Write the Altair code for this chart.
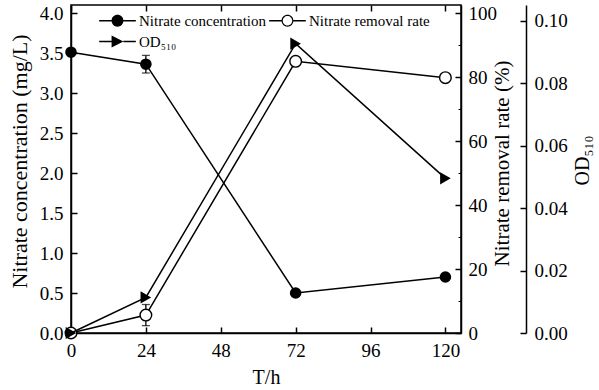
import altair as alt
import pandas as pd

# ---------------- data ----------------
time_h = [0, 24, 72, 120]
nitrate_conc = [3.51, 3.36, 0.50, 0.70]
nitrate_conc_err = [0.0, 0.11, 0.0, 0.0]
removal_rate = [0.0, 5.6, 84.9, 79.8]
removal_rate_err = [0.0, 3.3, 0.0, 0.0]
od510 = [0.0, 0.0114, 0.0926, 0.0495]

x_ticks = [0, 24, 48, 72, 96, 120]
conc_ticks = [0.0, 0.5, 1.0, 1.5, 2.0, 2.5, 3.0, 3.5, 4.0]
rate_ticks = [0, 20, 40, 60, 80, 100]
rate_minor_ticks = [10, 30, 50, 70, 90]
od_ticks = [0.00, 0.02, 0.04, 0.06, 0.08, 0.10]
series_names = ["Nitrate concentration", "Nitrate removal rate", "OD₅₁₀"]

df = pd.DataFrame({
    "t": time_h,
    "conc": nitrate_conc,
    "conc_err": nitrate_conc_err,
    "rate": removal_rate,
    "rate_err": removal_rate_err,
    "od": od510,
})
df["conc_lo"] = df["conc"] - df["conc_err"]
df["conc_hi"] = df["conc"] + df["conc_err"]
df["rate_lo"] = df["rate"] - df["rate_err"]
df["rate_hi"] = df["rate"] + df["rate_err"]

legend_df = pd.DataFrame({"series": series_names})

FONT = "Liberation Serif"
W, H = 390, 328

x_scale = alt.Scale(domain=[0, 125], nice=False, zero=False)
conc_scale = alt.Scale(domain=[0, 4.1], nice=False, zero=False)
rate_scale = alt.Scale(domain=[0, 102.5], nice=False, zero=False)
od_scale = alt.Scale(domain=[0, 0.105], nice=False, zero=False)

IN6 = {"expr": "-6"}
IN3 = {"expr": "-3"}

TXT = dict(labelFont=FONT, titleFont=FONT, labelFontSize=19, labelColor="black",
           titleColor="black", titleFontWeight="normal", domainColor="black",
           domainWidth=1.5, labelFlush=False, labelOverlap=False, grid=False)
TCK = dict(labels=False, domain=False, title=None, tickColor="black", grid=False)

# ---- main axes: domain, labels, titles (no ticks)
x_axis_bottom = alt.Axis(
    orient="bottom", values=x_ticks, format="d", ticks=False, labelPadding=8,
    title="T/h", titleFontSize=20, titleX=W / 2, titleY=50, titleAlign="center",
    titleBaseline="alphabetic", **TXT,
)
y_axis_conc = alt.Axis(
    orient="left", values=conc_ticks, format=".1f", ticks=False, labelPadding=8,
    title="Nitrate concentration (mg/L)", titleFontSize=22, titleAngle=270,
    titleX=-45, titleY=156, titleAlign="center", titleBaseline="alphabetic", **TXT,
)
y_axis_rate = alt.Axis(
    orient="right", values=rate_ticks, format="d", ticks=False, labelPadding=7,
    title="Nitrate removal rate (%)", titleFontSize=21, titleAngle=270,
    titleX=47, titleY=158, titleAlign="center", titleBaseline="alphabetic", **TXT,
)
y_axis_od = alt.Axis(
    orient="right", offset=65, values=od_ticks, format=".2f", ticks=False,
    labelPadding=8, title="OD₅₁₀", titleFontSize=20, titleAngle=270,
    titleX=62, titleY=155, titleAlign="center", titleBaseline="alphabetic", **TXT,
)

# ---- tick-only axes (ticks pointing into the plot)
x_ticks_bottom = alt.Axis(orient="bottom", values=x_ticks, tickSize=IN6, tickWidth=1.5, **TCK)
x_ticks_top = alt.Axis(orient="top", values=x_ticks, tickSize=IN6, tickWidth=1.5, **TCK)
y_ticks_conc = alt.Axis(orient="left", values=conc_ticks, tickSize=IN6, tickWidth=1.5, **TCK)
y_ticks_rate = alt.Axis(orient="right", values=rate_ticks, tickSize=IN6, tickWidth=1.5, **TCK)
y_ticks_rate_minor = alt.Axis(orient="right", values=rate_minor_ticks, tickSize=IN3, tickWidth=1, **TCK)
y_ticks_od = alt.Axis(orient="right", offset=65, values=od_ticks, tickSize=IN6, tickWidth=1.5, **TCK)

base = alt.Chart(df)
X_none = alt.X("t:Q", scale=x_scale, axis=None)

# ---- nitrate concentration
conc_line = base.mark_line(color="black", strokeWidth=1.5).encode(
    x=X_none, y=alt.Y("conc:Q", scale=conc_scale, axis=None))
conc_bar = base.transform_filter("datum.conc_err > 0").mark_rule(color="black", strokeWidth=1.3).encode(
    x=X_none, y=alt.Y("conc_lo:Q", scale=conc_scale, axis=None), y2="conc_hi:Q")
conc_cap_lo = base.transform_filter("datum.conc_err > 0").mark_tick(
    orient="horizontal", size=8, thickness=1.3, color="black").encode(
    x=X_none, y=alt.Y("conc_lo:Q", scale=conc_scale, axis=None))
conc_cap_hi = base.transform_filter("datum.conc_err > 0").mark_tick(
    orient="horizontal", size=8, thickness=1.3, color="black").encode(
    x=X_none, y=alt.Y("conc_hi:Q", scale=conc_scale, axis=None))
conc_pts = base.mark_point(shape="circle", filled=True, color="black", size=135, opacity=1).encode(
    x=X_none, y=alt.Y("conc:Q", scale=conc_scale, axis=None))
conc_layer = alt.layer(conc_line, conc_bar, conc_cap_lo, conc_cap_hi, conc_pts)

# ---- nitrate removal rate
rate_line = base.mark_line(color="black", strokeWidth=1.5).encode(
    x=X_none, y=alt.Y("rate:Q", scale=rate_scale, axis=None))
rate_bar = base.transform_filter("datum.rate_err > 0").mark_rule(color="black", strokeWidth=1.3).encode(
    x=X_none, y=alt.Y("rate_lo:Q", scale=rate_scale, axis=None), y2="rate_hi:Q")
rate_cap_lo = base.transform_filter("datum.rate_err > 0").mark_tick(
    orient="horizontal", size=8, thickness=1.3, color="black").encode(
    x=X_none, y=alt.Y("rate_lo:Q", scale=rate_scale, axis=None))
rate_cap_hi = base.transform_filter("datum.rate_err > 0").mark_tick(
    orient="horizontal", size=8, thickness=1.3, color="black").encode(
    x=X_none, y=alt.Y("rate_hi:Q", scale=rate_scale, axis=None))
rate_pts = base.mark_point(shape="circle", filled=True, fill="white", stroke="black",
                           strokeWidth=1.4, size=135, opacity=1).encode(
    x=X_none, y=alt.Y("rate:Q", scale=rate_scale, axis=None))
rate_layer = alt.layer(rate_line, rate_bar, rate_cap_lo, rate_cap_hi, rate_pts)

# ---- OD510
od_line = base.mark_line(color="black", strokeWidth=1.5).encode(
    x=X_none, y=alt.Y("od:Q", scale=od_scale, axis=None))
od_pts = base.mark_point(shape="triangle-right", filled=True, color="black", size=150, opacity=1).encode(
    x=X_none, y=alt.Y("od:Q", scale=od_scale, axis=None))
od_layer = alt.layer(od_line, od_pts)

# ---- invisible layers carrying the axes
axes_1 = base.mark_point(opacity=0).encode(
    x=alt.X("t:Q", scale=x_scale, axis=x_axis_bottom),
    y=alt.Y("conc:Q", scale=conc_scale, axis=y_axis_conc))
axes_2 = base.mark_point(opacity=0).encode(
    x=X_none, y=alt.Y("rate:Q", scale=rate_scale, axis=y_axis_rate))
axes_3 = base.mark_point(opacity=0).encode(
    x=X_none, y=alt.Y("od:Q", scale=od_scale, axis=y_axis_od))
ticks_a = base.mark_point(opacity=0).encode(
    x=alt.X("t:Q", scale=x_scale, axis=x_ticks_bottom),
    y=alt.Y("conc:Q", scale=conc_scale, axis=y_ticks_conc))
ticks_b = base.mark_point(opacity=0).encode(
    x=alt.X("t:Q", scale=x_scale, axis=x_ticks_top),
    y=alt.Y("rate:Q", scale=rate_scale, axis=y_ticks_rate))
ticks_c = base.mark_point(opacity=0).encode(
    x=X_none, y=alt.Y("rate:Q", scale=rate_scale, axis=y_ticks_rate_minor))
ticks_d = base.mark_point(opacity=0).encode(
    x=X_none, y=alt.Y("od:Q", scale=od_scale, axis=y_ticks_od))

# ---- legend (line + marker symbols)
LINES = "M-3.1,-0.11H-1V0.11H-3.1Z M1,-0.11H3.1V0.11H1Z "
DISC = "M1,0A1,1 0 1,1 -1,0A1,1 0 1,1 1,0Z"
RING = DISC + " M0.8,0A0.8,0.8 0 1,0 -0.8,0A0.8,0.8 0 1,0 0.8,0Z"
TRI = "M-1,-1L1,0L-1,1Z"
legend_shapes = [LINES + DISC, LINES + RING, LINES + TRI]

legend_layer = alt.Chart(legend_df).mark_point(filled=True, color="black", opacity=0, size=140).encode(
    shape=alt.Shape(
        "series:N",
        scale=alt.Scale(domain=series_names, range=legend_shapes),
        legend=alt.Legend(
            orient="none", legendX=39, legendY=8, columns=2, direction="horizontal", title=None,
            labelFont=FONT, labelFontSize=15, labelColor="black", labelLimit=400,
            symbolSize=140, symbolStrokeWidth=0, symbolOpacity=1, symbolFillColor="black",
            labelOffset=14, columnPadding=2, rowPadding=5, padding=0,
        ),
    )
)

chart = (
    alt.layer(conc_layer, rate_layer, od_layer, axes_1, axes_2, axes_3,
              ticks_a, ticks_b, ticks_c, ticks_d, legend_layer)
    .resolve_scale(y="independent")
    .resolve_axis(x="independent", y="independent")
    .properties(
        width=W, height=H,
        padding={"left": 71, "top": 5, "right": 138, "bottom": 57},
        autosize=alt.AutoSizeParams(type="none"),
        background="white",
    )
    .configure(font=FONT)
    .configure_view(stroke="black", strokeWidth=1.5)
    .configure_axis(
        labelFont=FONT, titleFont=FONT, labelFontSize=19, labelColor="black",
        titleColor="black", titleFontWeight="normal", tickColor="black",
        domainColor="black", domainWidth=1.5, tickWidth=1.5, grid=False,
    )
)

chart.save("out.html", embed_options={"renderer": "svg", "actions": False})
